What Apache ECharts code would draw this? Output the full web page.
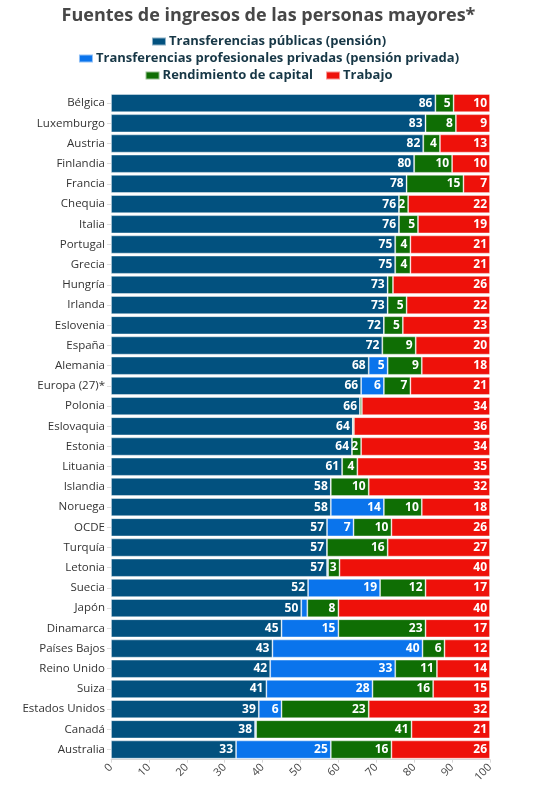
<!DOCTYPE html>
<html>
<head>
<meta charset="utf-8">
<script src="https://cdn.jsdelivr.net/npm/echarts@6/dist/echarts.min.js"></script>
<style>
  html, body { margin: 0; padding: 0; background: #fff; }
  #chart { width: 537px; height: 785px; }
</style>
</head>
<body>
<div id="chart"></div>
<script>
// Pays (de haut en bas)
const countries = ['Bélgica', 'Luxemburgo', 'Austria', 'Finlandia', 'Francia', 'Chequia', 'Italia',
  'Portugal', 'Grecia', 'Hungría', 'Irlanda', 'Eslovenia', 'España', 'Alemania', 'Europa (27)*',
  'Polonia', 'Eslovaquia', 'Estonia', 'Lituania', 'Islandia', 'Noruega', 'OCDE', 'Turquía', 'Letonia',
  'Suecia', 'Japón', 'Dinamarca', 'Países Bajos', 'Reino Unido', 'Suiza', 'Estados Unidos', 'Canadá',
  'Australia'];

// Parts en % (arrondies dans les étiquettes)
const publicas  = [85.6, 83, 82.4, 80, 78, 76, 76, 75, 75, 73, 73, 72, 71.6, 68, 66,
  65.7, 63.8, 63.6, 61, 58, 58, 57, 57, 57, 52, 50.2, 45, 42.6, 42, 41, 39, 38, 33];
const privadas  = [0, 0, 0, 0, 0, 0, 0, 0, 0, 0, 0, 0, 0, 5, 6,
  0, 0, 0, 0, 0, 14, 7, 0, 0.3, 19, 1.6, 15, 39.6, 33, 28, 6, 0.3, 25];
const capital   = [4.8, 8, 4.4, 10, 15, 2.4, 5, 4, 4, 1.4, 5, 5, 8.8, 9, 7,
  0.5, 0.3, 2.4, 4, 10, 10, 10, 16, 3, 12, 8.2, 23, 5.8, 11, 16, 23, 41, 16];
const trabajo   = [9.6, 9, 13.2, 10, 7, 21.6, 19, 21, 21, 25.6, 22, 23, 19.6, 18, 21,
  33.8, 35.9, 34, 35, 32, 18, 26, 27, 39.7, 17, 40, 17, 12, 14, 15, 32, 20.7, 26];

const seriesNames = ['Transferencias públicas (pensión)',
  'Transferencias profesionales privadas (pensión privada)',
  'Rendimiento de capital', 'Trabajo'];
const seriesColors = ['#02517f', '#0a74ec', '#0f6e04', '#ee110a'];
const xTicks = [0, 10, 20, 30, 40, 50, 60, 70, 80, 90, 100];

const chart = echarts.init(document.getElementById('chart'), null, { renderer: 'canvas' });

const font = '"Open Sans", "Noto Sans", sans-serif';

const mkBar = (i, values) => ({
  name: seriesNames[i],
  type: 'bar',
  stack: 'total',
  barCategoryGap: '10%',
  data: values,
  itemStyle: { color: seriesColors[i], borderColor: 'rgba(255,255,255,0.55)', borderWidth: 0.8 },
  label: {
    show: true,
    position: 'insideRight',
    distance: 3,
    color: '#fff',
    fontFamily: font,
    fontWeight: 'bold',
    fontSize: 12,
    formatter: function (p) { return p.value >= 1.8 ? Math.round(p.value) : ''; }
  },
  emphasis: { disabled: true }
});

const legendBase = {
  left: 'center',
  itemWidth: 14,
  itemHeight: 8,
  itemGap: 12,
  icon: 'rect',
  selectedMode: false,
  textStyle: { fontFamily: font, fontWeight: 'bold', fontSize: 13, color: '#173746', padding: [0, 0, 0, -2] }
};

chart.setOption({
  backgroundColor: '#fff',
  animation: false,
  title: {
    text: 'Fuentes de ingresos de las personas mayores*',
    left: 'center',
    top: 2,
    textStyle: { fontFamily: font, fontWeight: 'bold', fontSize: 18, color: '#474747' }
  },
  legend: [
    Object.assign({}, legendBase, { top: 30, data: [seriesNames[0]] }),
    Object.assign({}, legendBase, { top: 47, data: [seriesNames[1]] }),
    Object.assign({}, legendBase, { top: 64, data: [seriesNames[2], seriesNames[3]] })
  ],
  grid: { left: 111, right: 47, top: 93, bottom: 25, containLabel: false },
  xAxis: {
    type: 'value',
    min: xTicks[0],
    max: xTicks[xTicks.length - 1],
    interval: 10,
    axisLine: { show: true, lineStyle: { color: '#d8d8d8' } },
    axisTick: { show: true, length: 3, lineStyle: { color: '#d8d8d8' } },
    splitLine: { show: false },
    axisLabel: { rotate: 45, fontFamily: font, fontSize: 11, color: '#444', margin: 6 }
  },
  yAxis: {
    type: 'category',
    inverse: true,
    data: countries,
    axisLine: { show: false },
    axisTick: { show: true, length: 4, alignWithLabel: true, lineStyle: { color: '#dddddd' } },
    axisLabel: { fontFamily: font, fontSize: 11.5, color: '#333', margin: 6 }
  },
  series: [mkBar(0, publicas), mkBar(1, privadas), mkBar(2, capital), mkBar(3, trabajo)]
});
</script>
</body>
</html>
